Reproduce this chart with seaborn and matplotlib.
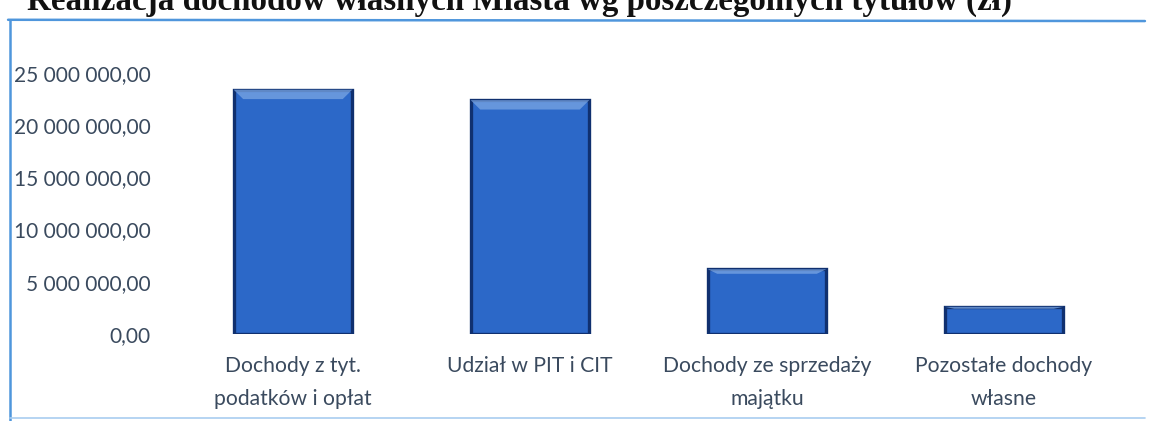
import matplotlib
matplotlib.use("Agg")
import matplotlib.pyplot as plt
from matplotlib.lines import Line2D
from matplotlib.ticker import FuncFormatter
import pandas as pd
import seaborn as sns

# Realizacja dochodów własnych Miasta wg poszczególnych tytułów (zł)
categories = ["Dochody z tyt.\npodatków i opłat", "Udział w PIT i CIT",
              "Dochody ze sprzedaży\nmajątku", "Pozostałe dochody\nwłasne"]
values = [23_400_000, 22_400_000, 6_200_000, 2_600_000]
y_ticks = [0, 5_000_000, 10_000_000, 15_000_000, 20_000_000, 25_000_000]
title = "Realizacja dochodów własnych Miasta wg poszczególnych tytułów (zł)"

sns.set_theme(style="white")
plt.rcParams["font.family"] = ["Lato", "DejaVu Sans"]

TEXT = "#3a4a5e"


def pl_fmt(v, _pos=None):
    return f"{v:,.2f}".replace(",", " ").replace(".", ",")


df = pd.DataFrame({"kategoria": categories, "kwota": values})

fig = plt.figure(figsize=(11.53, 4.21), dpi=100)
ax = fig.add_axes([0.1513, 0.2067, 0.8223, 0.6199])
sns.barplot(data=df, x="kategoria", y="kwota", color="#2c68c8", width=0.5,
            edgecolor="#10306f", linewidth=2.4, saturation=1, ax=ax)

# bevel highlight along the top of each bar
for p in ax.patches:
    x0, y0 = p.get_x(), p.get_y()
    w, h = p.get_width(), p.get_height()
    band = min(h * 0.07, 900_000)
    ax.fill([x0, x0 + w, x0 + w * 0.92, x0 + w * 0.08],
            [y0 + h, y0 + h, y0 + h - band, y0 + h - band],
            color="#7aa6e4", alpha=0.75, lw=0, zorder=3)

ax.set_ylim(0, 25_000_000)
ax.set_xlim(-0.5, 3.5)
ax.set_yticks(y_ticks)
ax.yaxis.set_major_formatter(FuncFormatter(pl_fmt))
ax.tick_params(axis="y", labelsize=15, labelcolor=TEXT, pad=17, length=0)
ax.tick_params(axis="x", labelsize=15.2, labelcolor=TEXT, pad=16, length=0)
for t in ax.get_xticklabels():
    t.set_linespacing(1.82)
ax.set_xlabel("")
ax.set_ylabel("")
sns.despine(ax=ax, left=True, bottom=True)

# scanned frame around the chart
frame = "#4f96dc"
fig.add_artist(Line2D([0.007, 0.993], [0.953, 0.950], color=frame, lw=1.8))
fig.add_artist(Line2D([0.009, 0.009], [0.953, 0.0], color=frame, lw=1.8))
fig.add_artist(Line2D([0.009, 0.993], [0.008, 0.008], color="#a9cdf0", lw=1.2))

# title, cut off by the top of the scan
fig.text(0.023, 0.977, title, fontsize=23.8, fontweight="bold",
         family=["Liberation Serif", "DejaVu Serif"], color="#111111",
         ha="left", va="baseline")

fig.savefig("out.png", dpi=100)
